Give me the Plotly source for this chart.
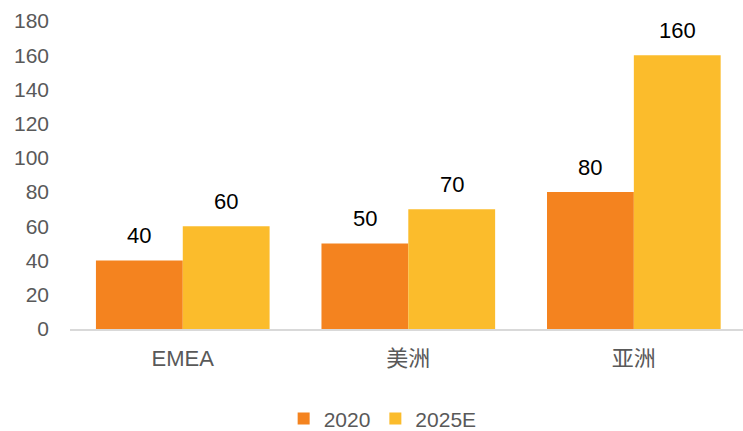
import plotly.graph_objects as go

# Regional values, 2020 vs 2025E
regions = ["EMEA", "美洲", "亚洲"]
values_2020 = [40, 50, 80]
values_2025e = [60, 70, 160]
y_ticks = [0, 20, 40, 60, 80, 100, 120, 140, 160, 180]

c2020 = "#F4831F"
c2025 = "#FBBC2C"
font_family = "Liberation Sans, Arial, Noto Sans CJK SC, sans-serif"

fig = go.Figure()
fig.add_trace(go.Bar(name="2020", x=regions, y=values_2020, marker=dict(color=c2020, line=dict(width=0))))
fig.add_trace(go.Bar(name="2025E", x=regions, y=values_2025e, marker=dict(color=c2025, line=dict(width=0))))

# value labels above each bar
half_bar_px = 43.5
for vals, shift in ((values_2020, -half_bar_px), (values_2025e, half_bar_px)):
    for r, v in zip(regions, vals):
        fig.add_annotation(x=r, y=v, text=str(v), showarrow=False, xshift=shift,
                           yshift=25, yanchor="middle",
                           font=dict(size=22, color="#000000", family=font_family))

fig.update_layout(
    width=743, height=431,
    margin=dict(l=70, r=0, t=21, b=102),
    paper_bgcolor="white", plot_bgcolor="white",
    barmode="group", bargap=0.23, bargroupgap=0,
    font=dict(family=font_family, color="#595959", size=20),
    showlegend=True,
    legend=dict(orientation="h", xref="container", x=0.515, xanchor="center",
                yref="container", y=0.028, yanchor="middle",
                font=dict(size=21, color="#595959"), itemwidth=30, tracegroupgap=0,
                traceorder="normal"),
)
fig.update_xaxes(range=[-0.5, 2.484], showline=True, linecolor="#D9D9D9", linewidth=2,
                 ticks="", tickfont=dict(size=22, color="#595959"), ticklabelstandoff=9,
                 showgrid=False, zeroline=False)
fig.update_yaxes(range=[0, 180], tickvals=y_ticks, showgrid=False, zeroline=False,
                 showline=False, ticks="", tickfont=dict(size=21, color="#595959"),
                 ticklabelstandoff=20)

fig.write_html("out.html")
